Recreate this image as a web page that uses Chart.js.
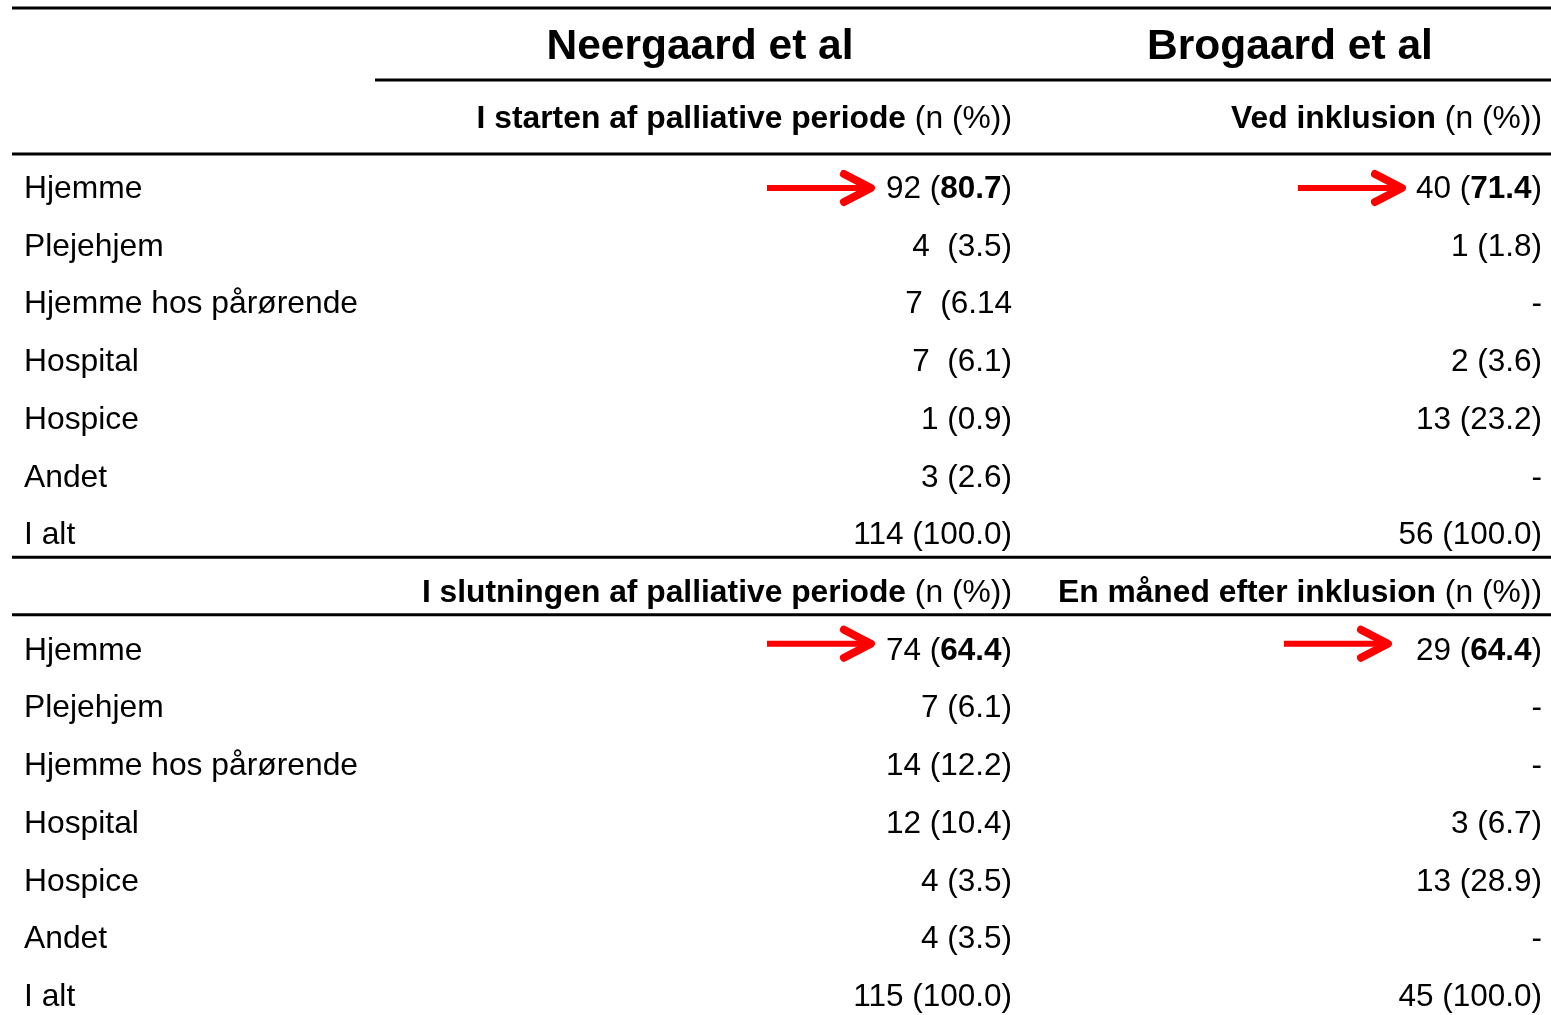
<!DOCTYPE html>
<html>
<head>
<meta charset="utf-8">
<script src="https://cdn.jsdelivr.net/npm/chart.js@4/dist/chart.umd.min.js"></script>
<style>
html,body{margin:0;padding:0;background:#fff}
canvas{display:block}
</style>
</head>
<body>
<canvas id="table" width="1551" height="1015"></canvas>
<script>
// studies (column titles)
const studies = ["Neergaard et al", "Brogaard et al"]

// sub headers, *...* = bold
const headersStart = ["*I starten af palliative periode* (n (%))", "*Ved inklusion* (n (%))"]
const headersEnd = ["*I slutningen af palliative periode* (n (%))", "*En måned efter inklusion* (n (%))"]

// row categories
const places = ["Hjemme", "Plejehjem", "Hjemme hos pårørende", "Hospital", "Hospice", "Andet", "I alt"]

// cell values n (%), as printed
const neergaardStart = ["92 (*80.7*)", "4  (3.5)", "7  (6.14", "7  (6.1)", "1 (0.9)", "3 (2.6)", "114 (100.0)"]
const brogaardStart = ["40 (*71.4*)", "1 (1.8)", "-", "2 (3.6)", "13 (23.2)", "-", "56 (100.0)"]
const neergaardEnd = ["74 (*64.4*)", "7 (6.1)", "14 (12.2)", "12 (10.4)", "4 (3.5)", "4 (3.5)", "115 (100.0)"]
const brogaardEnd = ["29 (*64.4*)", "-", "-", "3 (6.7)", "13 (28.9)", "-", "45 (100.0)"]

// highlighted cells (row index on the y scale, column 1 or 2)
const arrowRows = [0, 0, 8, 8]
const arrowCols = [1, 2, 1, 2]

// y scale: 7 rows, second sub header, 7 rows
const rowLabels = places.concat([""], places)
const col1 = neergaardStart.concat([headersEnd[0]], neergaardEnd)
const col2 = brogaardStart.concat([headersEnd[1]], brogaardEnd)

const FONT = '"Liberation Sans", Arial, sans-serif'
const SIZE = 31.8
const VALSIZE = 31.5
const labelX = 24
const colRight = [1012, 1542]
const titleX = [700, 1290]
const arrowGap = [14, 13, 14, 27]
const arrowDy = [1, 1, -5, -5]

function drawRich(ctx, text, xRight, y, size){
  const parts = text.split("*")
  let widths = []
  let total = 0
  parts.forEach((p, i) => {
    ctx.font = (i % 2 == 1 ? "bold " : "") + size + "px " + FONT
    const w = ctx.measureText(p).width
    widths.push(w)
    total += w
  })
  let x = xRight - total
  parts.forEach((p, i) => {
    ctx.font = (i % 2 == 1 ? "bold " : "") + size + "px " + FONT
    ctx.fillText(p, x, y)
    x += widths[i]
  })
  return xRight - total
}

function rule(ctx, x1, x2, y){
  ctx.beginPath()
  ctx.moveTo(x1, y)
  ctx.lineTo(x2, y)
  ctx.stroke()
}

function arrow(ctx, tip, y){
  ctx.save()
  ctx.strokeStyle = "#ff0000"
  ctx.lineJoin = "round"
  ctx.lineWidth = 6
  ctx.beginPath()
  ctx.moveTo(tip - 105, y)
  ctx.lineTo(tip - 6, y)
  ctx.stroke()
  ctx.lineCap = "round"
  ctx.lineWidth = 8
  ctx.beginPath()
  ctx.moveTo(tip - 28, y - 14)
  ctx.lineTo(tip - 1, y)
  ctx.lineTo(tip - 28, y + 14)
  ctx.stroke()
  ctx.restore()
}

const tablePlugin = {
  id: "tablePlugin",
  beforeDraw(chart){
    const ctx = chart.ctx
    ctx.save()
    ctx.fillStyle = "#fff"
    ctx.fillRect(0, 0, chart.width, chart.height)
    ctx.restore()
  },
  afterDraw(chart){
    const ctx = chart.ctx
    const y = chart.scales.y
    const area = chart.chartArea
    const lift = 11
    ctx.save()
    ctx.fillStyle = "#000"
    ctx.strokeStyle = "#000"
    ctx.lineWidth = 3
    ctx.textBaseline = "alphabetic"

    // titles
    ctx.font = "bold 42.5px " + FONT
    ctx.textAlign = "center"
    ctx.fillText(studies[0], titleX[0], y.top - 128)
    ctx.fillText(studies[1], titleX[1], y.top - 128)
    ctx.textAlign = "left"

    rule(ctx, area.left, chart.width, y.top - 179)
    rule(ctx, 375, chart.width, y.top - 107)

    // first sub header
    drawRich(ctx, headersStart[0], colRight[0], y.top - 70 + lift, SIZE)
    drawRich(ctx, headersStart[1], colRight[1], y.top - 70 + lift, SIZE)
    rule(ctx, area.left, chart.width, y.top - 33)

    const lefts = {}
    rowLabels.forEach((lab, i) => {
      const py = y.getPixelForValue(i)
      const sz = lab == "" ? SIZE : VALSIZE
      ctx.font = SIZE + "px " + FONT
      ctx.fillText(lab, labelX, py + lift)
      lefts[i + "_1"] = drawRich(ctx, col1[i], colRight[0], py + lift, sz)
      lefts[i + "_2"] = drawRich(ctx, col2[i], colRight[1], py + lift, sz)
    })

    // rules around the second sub header
    const hi = places.length
    const mid1 = (y.getPixelForValue(hi - 1) + y.getPixelForValue(hi)) / 2
    const mid2 = (y.getPixelForValue(hi) + y.getPixelForValue(hi + 1)) / 2
    rule(ctx, area.left, chart.width, mid1 - 5)
    rule(ctx, area.left, chart.width, mid2 - 5)

    arrowRows.forEach((r, k) => {
      const tip = lefts[r + "_" + arrowCols[k]] - arrowGap[k]
      arrow(ctx, tip, y.getPixelForValue(r) + arrowDy[k])
    })
    ctx.restore()
  }
}

new Chart(document.getElementById("table"), {
  type: "bar",
  data: {
    labels: rowLabels,
    datasets: [{ data: [] }]
  },
  options: {
    indexAxis: "y",
    responsive: false,
    animation: false,
    layout: { padding: { top: 187, bottom: 20, left: 12, right: 0 } },
    plugins: { legend: { display: false }, tooltip: { enabled: false } },
    scales: {
      y: { type: "category", offset: false, display: false },
      x: { display: false, min: 0, max: 1 }
    }
  },
  plugins: [tablePlugin]
})
</script>
</body>
</html>
